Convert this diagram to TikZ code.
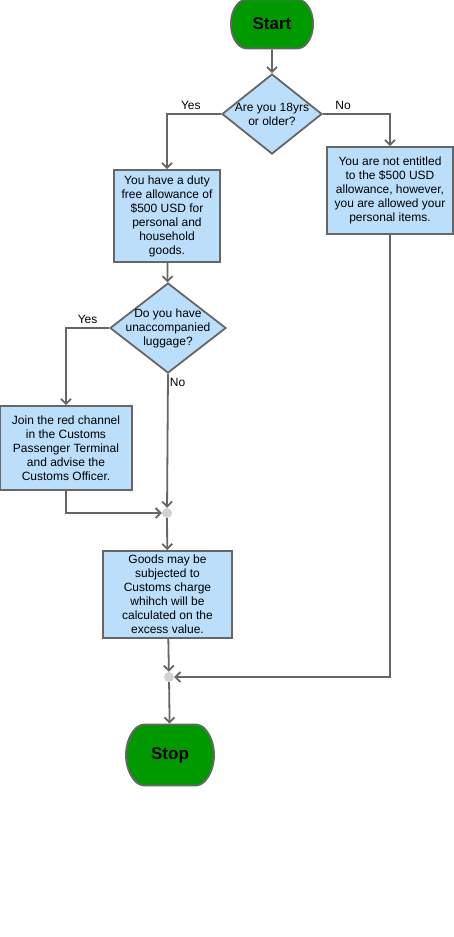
\documentclass[tikz,border=0pt]{standalone}
\usepackage{fontspec}
\setmainfont{Liberation Sans}
\usetikzlibrary{shapes.geometric,shapes.misc,arrows.meta}

\definecolor{boxblue}{HTML}{BBDEFB}
\definecolor{termgreen}{HTML}{009900}
\definecolor{linegray}{HTML}{666666}

\tikzset{
  process/.style={draw=linegray, fill=boxblue, line width=1.8pt, align=center, inner sep=0pt},
  decision/.style={diamond, draw=linegray, fill=boxblue, line width=1.8pt, inner sep=0pt},
  terminal/.style={rounded rectangle, rounded rectangle arc length=90, rounded corners=5pt,
    draw=linegray, fill=termgreen, line width=1.8pt, font=\fontsize{17}{20}\selectfont\bfseries,
    minimum width=87, minimum height=49},
  junction/.style={circle, fill=gray!35, inner sep=0pt, minimum size=10},
  flow/.style={draw=linegray, line width=1.8pt, ->},
}

\begin{document}
\begin{tikzpicture}[x=1pt,y=-1pt,font=\fontsize{12}{14}\selectfont,>={Straight Barb[length=5pt,width=10pt]}]
\useasboundingbox (0,0) rectangle (454,937);

% start and stop
\node[terminal] (start) at (272,24) {Start};
\node[terminal, minimum height=61] (stop) at (170,755) {Stop};

% questions
\node[decision, minimum width=100, minimum height=80,
  label={[align=center]center:Are you 18yrs\\or older?}] (age) at (272,114) {};
\node[decision, minimum width=116, minimum height=90,
  label={[align=center]center:Do you have\\unaccompanied\\luggage?}] (luggage) at (168,328) {};

% boxes
\node[process, minimum width=106, minimum height=92] (allow) at (167,216)
  {You have a duty\\free allowance of\\\$500 USD for\\personal and\\household\\goods.};
\node[process, minimum width=126, minimum height=87] (noallow) at (390,190.5)
  {You are not entitled\\to the \$500 USD\\allowance, however,\\you are allowed your\\personal items.};
\node[process, minimum width=132, minimum height=84] (red) at (66,448)
  {Join the red channel\\in the Customs\\Passenger Terminal\\and advise the\\Customs Officer.};
\node[process, minimum width=129, minimum height=87] (charge) at (167.5,594.5)
  {Goods may be\\subjected to\\Customs charge\\whihch will be\\calculated on the\\excess value.};

% joins
\node[junction] (join1) at (167,513) {};
\node[junction] (join2) at (169,677) {};

% connectors
\draw[flow] (start) -- (age);
\draw[flow] (age.west) -| node[pos=0.28, above] {Yes} (allow.north);
\draw[flow] (age.east) -| node[pos=0.15, above] {No} (noallow.north);
\draw[flow] (allow) -- (luggage);
\draw[flow] (luggage.west) -| node[pos=0.25, above] {Yes} (red.north);
\draw[flow] (luggage.south) -- node[pos=0.06, right, inner sep=1pt] {No} (join1);
\draw[flow] (red.south) |- (join1);
\draw[flow] (join1) -- (charge);
\draw[flow] (charge) -- (join2);
\draw[flow] (noallow.south) |- (join2);
\draw[flow] (join2) -- (stop);

\end{tikzpicture}
\end{document}
